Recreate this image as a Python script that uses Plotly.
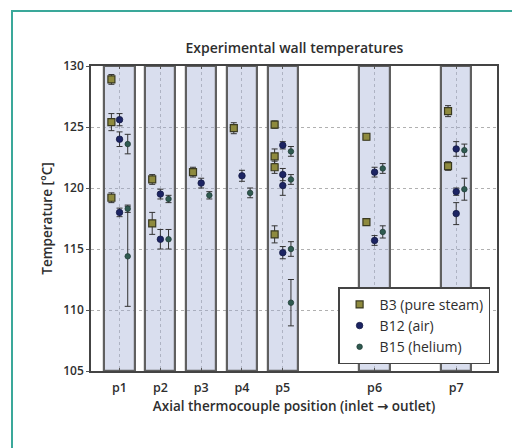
import plotly.graph_objects as go

# Axial thermocouple stations (axial coordinate) and their labels
stations = ["p1", "p2", "p3", "p4", "p5", "p6", "p7"]
station_x = [1, 2, 3, 4, 5, 7.25, 9.25]

# B3 (pure steam)
b3_station = ["p1", "p1", "p1", "p2", "p2", "p3", "p4", "p5", "p5", "p5", "p5", "p6", "p6", "p7", "p7"]
b3_temp = [128.9, 125.4, 119.2, 120.7, 117.1, 121.3, 124.9, 125.2, 122.6, 121.7, 116.2, 124.2, 117.2, 126.3, 121.8]
b3_err = [0.4, 0.7, 0.4, 0.4, 0.9, 0.4, 0.45, 0.3, 0.6, 0.5, 0.7, 0.25, 0.25, 0.45, 0.35]

# B12 (air)
b12_station = ["p1", "p1", "p1", "p2", "p2", "p3", "p4", "p5", "p5", "p5", "p5", "p6", "p6", "p7", "p7", "p7"]
b12_temp = [125.6, 124.0, 118.0, 119.5, 115.8, 120.4, 121.0, 123.5, 121.1, 120.2, 114.7, 121.3, 115.7, 123.2, 119.7, 117.9]
b12_err = [0.5, 0.6, 0.35, 0.4, 0.8, 0.4, 0.45, 0.3, 0.5, 0.8, 0.5, 0.4, 0.4, 0.6, 0.3, 0.9]

# B15 (helium)
b15_station = ["p1", "p1", "p1", "p2", "p2", "p3", "p4", "p5", "p5", "p5", "p5", "p6", "p6", "p7", "p7"]
b15_temp = [123.6, 118.3, 114.4, 119.1, 115.8, 119.4, 119.6, 123.0, 120.7, 115.0, 110.6, 121.6, 116.4, 123.1, 119.9]
b15_err = [0.8, 0.3, 4.1, 0.3, 0.8, 0.3, 0.4, 0.4, 0.4, 0.6, 1.9, 0.4, 0.5, 0.5, 0.9]

y_min, y_max = 105, 130
x_of = dict(zip(stations, station_x))

fig = go.Figure()

# Shaded band behind each thermocouple station
fig.add_trace(go.Bar(
    x=station_x, y=[y_max - y_min] * len(station_x), base=y_min, width=0.74,
    marker=dict(color="rgba(160,172,212,0.40)", line=dict(color="#606060", width=2.2)),
    showlegend=False, hoverinfo="skip",
))

series = [
    ("B3 (pure steam)", b3_station, b3_temp, b3_err, -0.2,
     dict(symbol="square", size=7, color="#8e8a3e", line=dict(color="#3a3a20", width=1.2))),
    ("B12 (air)", b12_station, b12_temp, b12_err, 0.0,
     dict(symbol="circle", size=6.5, color="#1c2463", line=dict(color="#141a45", width=0.8))),
    ("B15 (helium)", b15_station, b15_temp, b15_err, 0.2,
     dict(symbol="circle", size=5.5, color="#2f5a50", line=dict(color="#223f38", width=0.8))),
]

for name, st, temp, err, dx, mk in series:
    fig.add_trace(go.Scatter(
        x=[x_of[s] + dx for s in st], y=temp, mode="markers", name=name,
        marker=mk,
        error_y=dict(type="data", array=err, color="#333333", thickness=1, width=3),
    ))

font_main = dict(family="Open Sans, DejaVu Sans, sans-serif", color="#2e2e2e")

fig.update_layout(
    width=512, height=448,
    margin=dict(l=91, r=15, t=66, b=77),
    paper_bgcolor="white", plot_bgcolor="white",
    showlegend=True,
    title=dict(text="Experimental wall temperatures", x=0.575, xanchor="center",
               y=1 - 48 / 448, yanchor="middle",
               font=dict(size=14, weight=600, **font_main)),
    font=dict(size=12, weight=600, **font_main),
    legend=dict(x=0.983, xanchor="right", y=0.022, yanchor="bottom",
                bgcolor="white", bordercolor="#444444", borderwidth=1.5,
                font=dict(size=14, weight=400, **font_main),
                tracegroupgap=0),
    bargap=0,
)

fig.update_xaxes(
    range=[0.3, 10.25], tickmode="array", tickvals=station_x, ticktext=stations,
    showline=True, linecolor="#444444", linewidth=1.5, mirror="ticks",
    ticks="inside", ticklen=3, tickcolor="#555555",
    showgrid=True, gridcolor="#b8b8b8", griddash="dot", gridwidth=1,
    zeroline=False, ticklabelstandoff=4,
    title=dict(text="Axial thermocouple position (inlet \u2192 outlet)", standoff=7,
               font=dict(size=13.5, weight=600, **font_main)),
    tickfont=dict(size=12.5, weight=600, **font_main),
)

fig.update_yaxes(
    range=[y_min, y_max], dtick=5,
    showline=True, linecolor="#444444", linewidth=1.5, mirror=True,
    ticks="outside", ticklen=3, tickcolor="#555555",
    showgrid=True, gridcolor="#b0b0b0", griddash="dot", gridwidth=1,
    zeroline=False,
    title=dict(text="Temperature [\u00b0C]", standoff=8,
               font=dict(size=13.5, weight=600, **font_main)),
    tickfont=dict(size=12, weight=600, **font_main),
)

# Teal frame around the figure
fig.add_shape(type="rect", xref="paper", yref="paper",
              x0=(12 - 91) / 406, x1=(530 - 91) / 406,
              y0=-(470 - 371) / 305, y1=1 + (66 - 11) / 305,
              line=dict(color="#3aa89a", width=2), fillcolor="rgba(0,0,0,0)", layer="above")

fig.write_html("out.html")
